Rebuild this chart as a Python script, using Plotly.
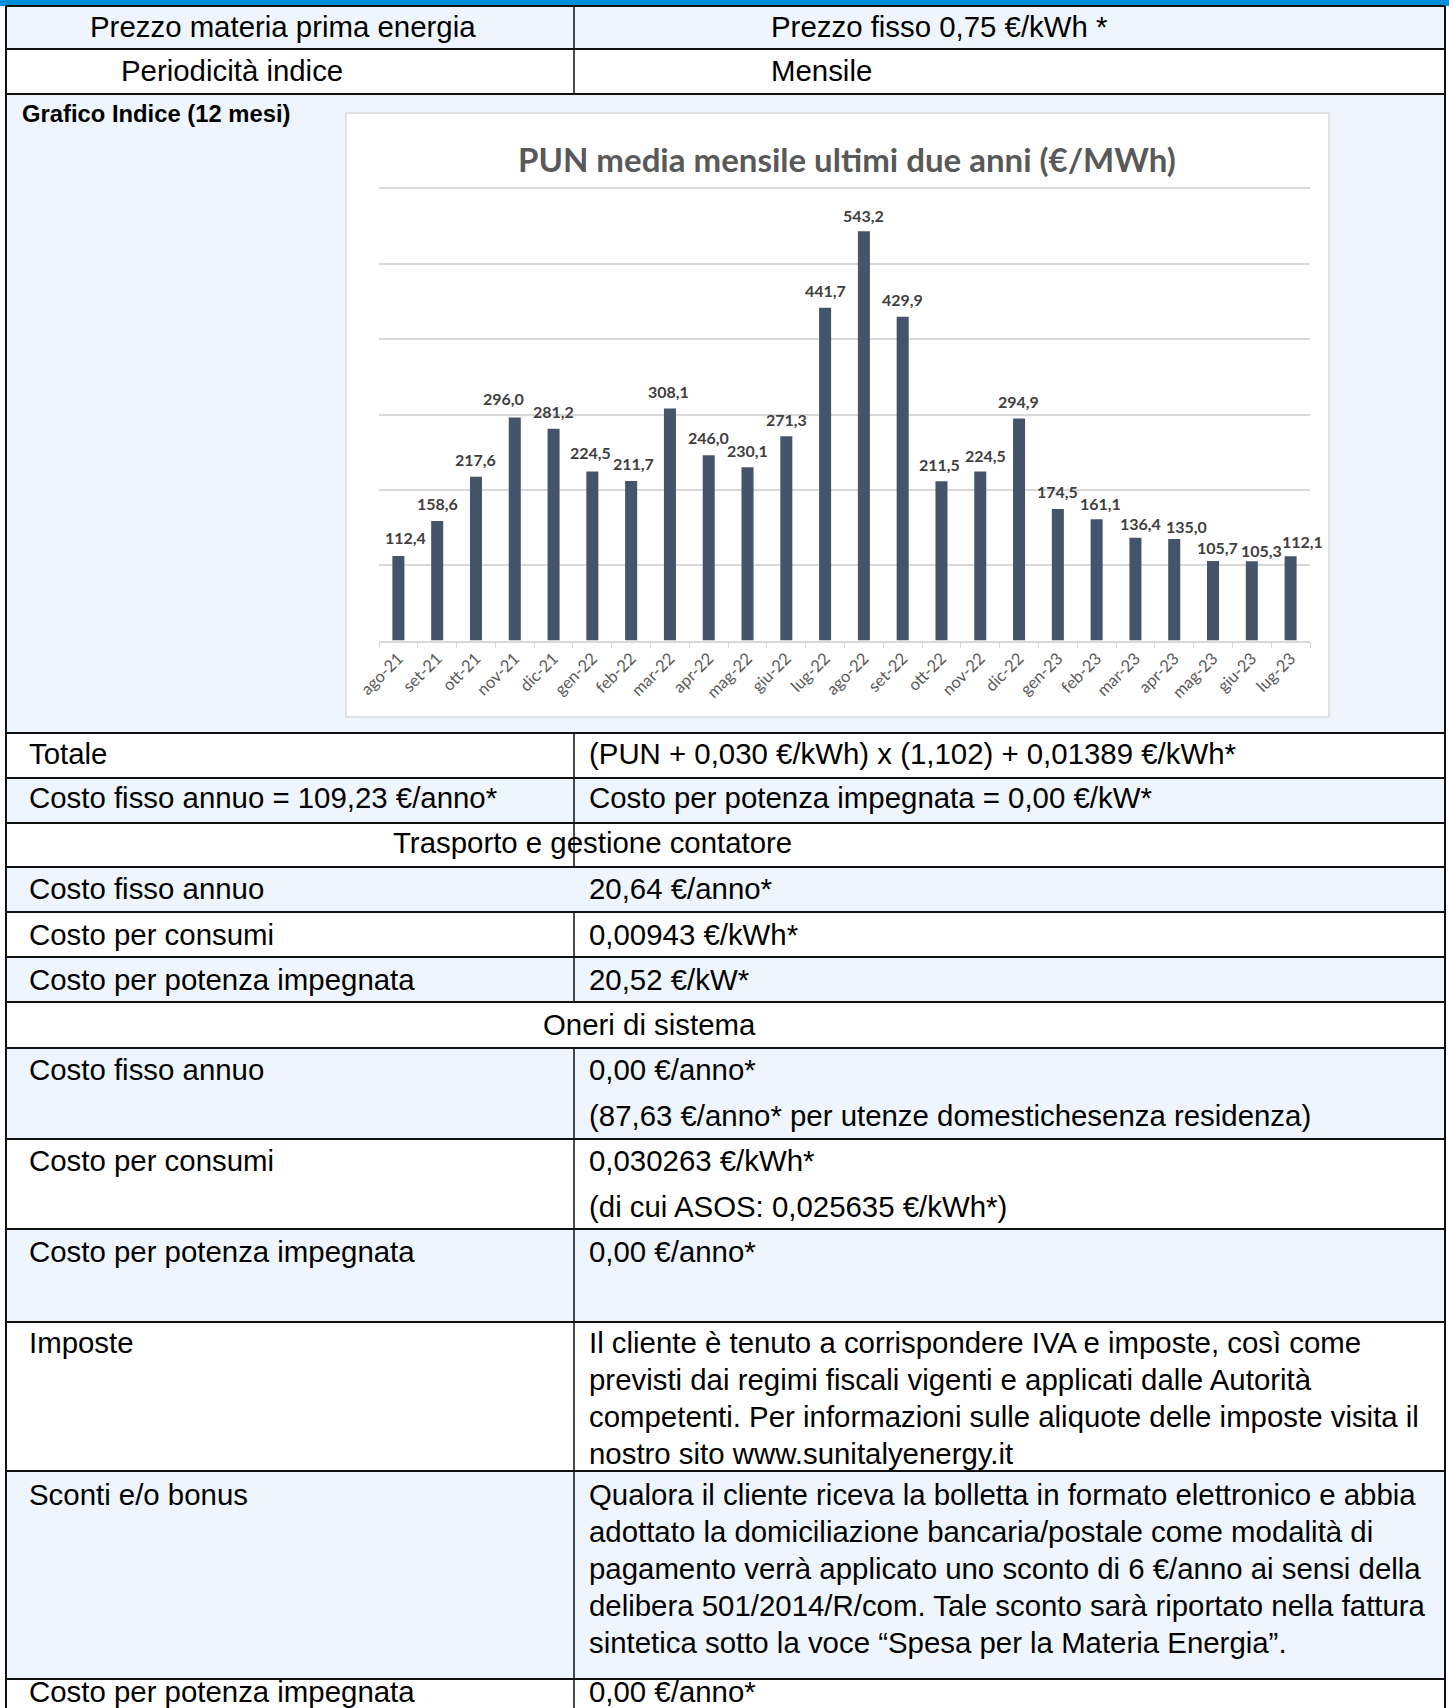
import plotly.graph_objects as go

W, H = 1449, 1708

# ---------------- chart data ----------------
months = ["ago-21", "set-21", "ott-21", "nov-21", "dic-21", "gen-22", "feb-22", "mar-22",
          "apr-22", "mag-22", "giu-22", "lug-22", "ago-22", "set-22", "ott-22", "nov-22",
          "dic-22", "gen-23", "feb-23", "mar-23", "apr-23", "mag-23", "giu-23", "lug-23"]
pun = [112.4, 158.6, 217.6, 296.0, 281.2, 224.5, 211.7, 308.1,
       246.0, 230.1, 271.3, 441.7, 543.2, 429.9, 211.5, 224.5,
       294.9, 174.5, 161.1, 136.4, 135.0, 105.7, 105.3, 112.1]
chart_title = "PUN media mensile ultimi due anni (€/MWh)"

# pixel nudges of the data labels (as placed in the reference chart)
label_dx = [7, 0, 0, -11, 0, -2, 2, -1, 0, 0, 0, 0, 0, 0, -2, 5, -1, 0, 4, 5, 12, 4, 10, 12]
label_dy = [18, 18, 17, 19, 17, 19, 18, 17, 18, 17, 17, 17, 16, 17, 17, 16, 17, 18, 16, 14, 12, 13, 11, 15]

# ---------------- table texts ----------------
left_texts = ["Prezzo materia prima energia", "Periodicità indice", "Grafico Indice (12 mesi)",
              "Totale", "Costo fisso annuo = 109,23 €/anno*", "Trasporto e gestione contatore",
              "Costo fisso annuo", "Costo per consumi", "Costo per potenza impegnata",
              "Oneri di sistema", "Costo fisso annuo", "Costo per consumi",
              "Costo per potenza impegnata", "Imposte", "Sconti e/o bonus",
              "Costo per potenza impegnata"]
right_texts = [
    ["Prezzo fisso 0,75 €/kWh *"],
    ["Mensile"],
    [],
    ["(PUN + 0,030 €/kWh) x (1,102) + 0,01389 €/kWh*"],
    ["Costo per potenza impegnata = 0,00 €/kW*"],
    [],
    ["20,64 €/anno*"],
    ["0,00943 €/kWh*"],
    ["20,52 €/kW*"],
    [],
    ["0,00 €/anno*", "(87,63 €/anno* per utenze domestichesenza residenza)"],
    ["0,030263 €/kWh*", "(di cui ASOS: 0,025635 €/kWh*)"],
    ["0,00 €/anno*"],
    ["Il cliente è tenuto a corrispondere IVA e imposte, così come",
     "previsti dai regimi fiscali vigenti e applicati dalle Autorità",
     "competenti. Per informazioni sulle aliquote delle imposte visita il",
     "nostro sito www.sunitalyenergy.it"],
    ["Qualora il cliente riceva la bolletta in formato elettronico e abbia",
     "adottato la domiciliazione bancaria/postale come modalità di",
     "pagamento verrà applicato uno sconto di 6 €/anno ai sensi della",
     "delibera 501/2014/R/com. Tale sconto sarà riportato nella fattura",
     "sintetica sotto la voce “Spesa per la Materia Energia”."],
    ["0,00 €/anno*"],
]

# ---------------- layout geometry (pixels) ----------------
row_lines = [6, 49, 94, 733, 778, 823, 867, 912, 957, 1002, 1048, 1139, 1229, 1322, 1471, 1679, 1708]
row_fill = ["#EEF5FD", "#FFFFFF"]
left_x_px = [88, 119, 20, 27, 27, 592, 27, 27, 27, 649, 27, 27, 27, 27, 27, 27]
left_anchor = ["left", "left", "left", "left", "left", "center", "left", "left", "left", "center",
               "left", "left", "left", "left", "left", "left"]
first_line_y = [26, 71, 114, 753, 797, 842, 888, 934, 979, 1024, 1069, 1160, 1251, 1342, 1494, 1691]
right_x_px = [769, 769, 587, 587, 587, 587, 587, 587, 587, 587, 587, 587, 587, 587, 587, 587]
line_step = 37.1
TX0, TX1 = 6, 1445
COLX = 574
div_segments = [(6, 94), (733, 867), (912, 1002), (1048, 1708)]


def px(x):
    return x / W


def py(y):
    return 1 - y / H


shapes = []
shapes.append(dict(type="rect", xref="paper", yref="paper", x0=0, x1=1, y0=py(0), y1=py(6),
                   fillcolor="#0090DA", line=dict(width=0), layer="below"))
for i in range(len(row_lines) - 1):
    shapes.append(dict(type="rect", xref="paper", yref="paper",
                       x0=px(TX0), x1=px(TX1), y0=py(row_lines[i]), y1=py(row_lines[i + 1]),
                       fillcolor=row_fill[i % 2], line=dict(width=0), layer="below"))
shapes.append(dict(type="rect", xref="paper", yref="paper", x0=px(346), x1=px(1329),
                   y0=py(113), y1=py(717), fillcolor="#FFFFFF",
                   line=dict(color="#D9D9D9", width=1.5), layer="below"))
for yl in row_lines[:-1]:
    shapes.append(dict(type="line", xref="paper", yref="paper", x0=px(TX0), x1=px(TX1),
                       y0=py(yl), y1=py(yl), line=dict(color="#111111", width=2)))
for xv in (TX0, TX1):
    shapes.append(dict(type="line", xref="paper", yref="paper", x0=px(xv), x1=px(xv),
                       y0=py(6), y1=py(H), line=dict(color="#111111", width=2)))
for a, b in div_segments:
    shapes.append(dict(type="line", xref="paper", yref="paper", x0=px(COLX), x1=px(COLX),
                       y0=py(a), y1=py(b), line=dict(color="#111111", width=1.5)))

FONT = "Arial, Liberation Sans, sans-serif"
TSIZE = 29.4
annotations = []
for i, t in enumerate(left_texts):
    bold = (i == 2)
    annotations.append(dict(xref="paper", yref="paper", x=px(left_x_px[i]), y=py(first_line_y[i]),
                            text=t, showarrow=False, xanchor=left_anchor[i], yanchor="middle",
                            font=dict(family=FONT, size=23.8 if bold else TSIZE, color="#000000",
                                      weight="bold" if bold else "normal")))
for i, lines in enumerate(right_texts):
    for k, t in enumerate(lines):
        annotations.append(dict(xref="paper", yref="paper", x=px(right_x_px[i]),
                                y=py(first_line_y[i] + k * (line_step if i >= 13 else 46)),
                                text=t, showarrow=False, xanchor="left", yanchor="middle",
                                font=dict(family=FONT, size=TSIZE, color="#000000")))
annotations.append(dict(xref="paper", yref="paper", x=px(847), y=py(159), text=chart_title,
                        showarrow=False, xanchor="center", yanchor="middle",
                        font=dict(family="Lato, sans-serif", size=33, color="#595959", weight="bold")))
# data labels, anchored to the bars through the axes
for m, v, dx, dy in zip(months, pun, label_dx, label_dy):
    annotations.append(dict(xref="x", yref="y", x=m, y=v, text=f"{v:.1f}".replace(".", ","),
                            showarrow=False, xanchor="center", yanchor="middle",
                            xshift=dx, yshift=dy,
                            font=dict(family="Lato, sans-serif", size=16, color="#404040",
                                      weight="bold")))

fig = go.Figure()
fig.add_trace(go.Bar(
    x=months, y=pun, marker=dict(color="#44546A", line=dict(width=0)),
    hoverinfo="x+y",
))

Y_TOP = 610
fig.update_layout(
    width=W, height=H, autosize=False,
    margin=dict(l=0, r=0, t=0, b=0, pad=0),
    paper_bgcolor="#FFFFFF", plot_bgcolor="rgba(0,0,0,0)",
    separators=",.",
    showlegend=False,
    bargap=0.69,
    shapes=shapes, annotations=annotations,
    xaxis=dict(domain=[px(379), px(1310)], type="category", automargin=False,
               range=[-0.5, len(months) - 0.5],
               showline=True, linecolor="#D9D9D9", linewidth=1.5,
               ticks="outside", tickson="boundaries", ticklen=6, tickcolor="#D9D9D9",
               tickangle=-45, showgrid=False,
               tickfont=dict(family="Lato, sans-serif", size=16.5, color="#595959")),
    yaxis=dict(domain=[py(640.6), py(640.6 - Y_TOP * (640.6 - 188.5) / 600)],
               range=[0, Y_TOP], dtick=100, tick0=0, automargin=False,
               showgrid=True, gridcolor="#D9D9D9", gridwidth=1.5,
               zeroline=False, showticklabels=False, showline=False, ticks=""),
)

fig.write_html("out.html", config={"displayModeBar": False},
               post_script="document.body.style.margin='0';")
